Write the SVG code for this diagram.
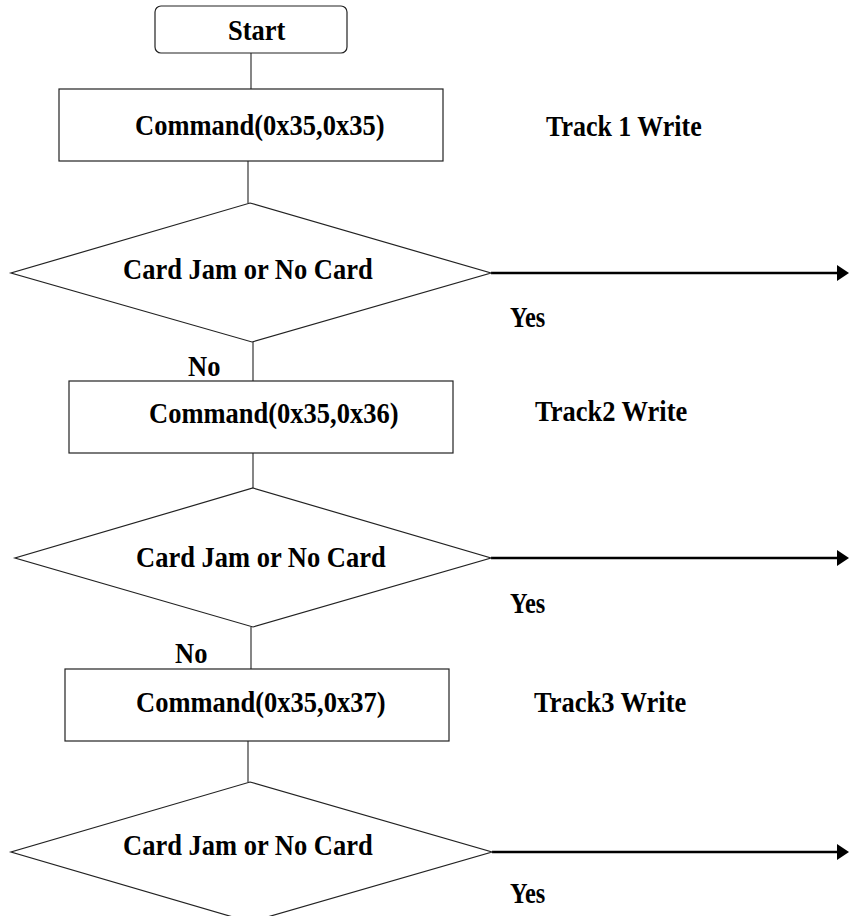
<svg xmlns="http://www.w3.org/2000/svg" width="849" height="916" viewBox="0 0 849 916">
  <style>
    .shape { fill: #ffffff; stroke: #222222; stroke-width: 1.2; }
    .conn { stroke: #222222; stroke-width: 1.1; fill: none; }
    .yes { stroke: #000000; stroke-width: 2.6; fill: none; }
    text { font-family: "Liberation Serif", "Times New Roman", serif; font-weight: bold; font-size: 26.5px; fill: #000000; }
  </style>
  <defs>
    <marker id="arrow" markerUnits="userSpaceOnUse" markerWidth="12" markerHeight="16" viewBox="0 0 12 16" refX="1" refY="8" orient="auto">
      <path d="M0,0 L12,8 L0,16 Z" fill="#000000"/>
    </marker>
  </defs>
  <rect width="849" height="916" fill="#ffffff"/>

  <g id="connectors">
    <line class="conn" x1="251" y1="53" x2="251" y2="89"/>
    <line class="conn" x1="248" y1="161" x2="248" y2="203"/>
    <line class="conn" x1="253" y1="342" x2="253" y2="381"/>
    <line class="conn" x1="253" y1="453" x2="253" y2="488"/>
    <line class="conn" x1="251" y1="627" x2="251" y2="669"/>
    <line class="conn" x1="248" y1="741" x2="248" y2="782"/>
    <line class="yes" x1="491" y1="273" x2="838" y2="273" marker-end="url(#arrow)"/>
    <line class="yes" x1="491" y1="558" x2="838" y2="558" marker-end="url(#arrow)"/>
    <line class="yes" x1="492" y1="852" x2="838" y2="852" marker-end="url(#arrow)"/>
    <text transform="translate(510,327) scale(0.92,1.12)">Yes</text>
    <text transform="translate(188,376) scale(1,1.12)">No</text>
    <text transform="translate(510,613) scale(0.92,1.12)">Yes</text>
    <text transform="translate(175,663) scale(1,1.12)">No</text>
    <text transform="translate(510,903) scale(0.92,1.12)">Yes</text>
  </g>

  <g id="start">
    <rect class="shape" x="155" y="6" width="192" height="47" rx="6"/>
    <text transform="translate(228,40) scale(1,1.12)">Start</text>
  </g>

  <g id="cmd1">
    <rect class="shape" x="59" y="89" width="384" height="72"/>
    <text transform="translate(135,135) scale(1,1.12)">Command(0x35,0x35)</text>
  </g>
  <g id="note1">
    <text transform="translate(546,136) scale(0.98,1.12)">Track 1 Write</text>
  </g>

  <g id="decision1">
    <polygon class="shape" points="250,203 491,273 252,342 11,273"/>
    <text transform="translate(123,279) scale(1,1.12)">Card Jam or No Card</text>
  </g>

  <g id="cmd2">
    <rect class="shape" x="69" y="381" width="384" height="72"/>
    <text transform="translate(149,423) scale(1,1.12)">Command(0x35,0x36)</text>
  </g>
  <g id="note2">
    <text transform="translate(535,421) scale(1,1.12)">Track2 Write</text>
  </g>

  <g id="decision2">
    <polygon class="shape" points="253,488 491,558 253,627 15,558"/>
    <text transform="translate(136,567) scale(1,1.12)">Card Jam or No Card</text>
  </g>

  <g id="cmd3">
    <rect class="shape" x="65" y="669" width="384" height="72"/>
    <text transform="translate(136,712) scale(1,1.12)">Command(0x35,0x37)</text>
  </g>
  <g id="note3">
    <text transform="translate(534,712) scale(1,1.12)">Track3 Write</text>
  </g>

  <g id="decision3">
    <polygon class="shape" points="250,782 492,852 250,922 11,852"/>
    <text transform="translate(123,855) scale(1,1.12)">Card Jam or No Card</text>
  </g>
</svg>
